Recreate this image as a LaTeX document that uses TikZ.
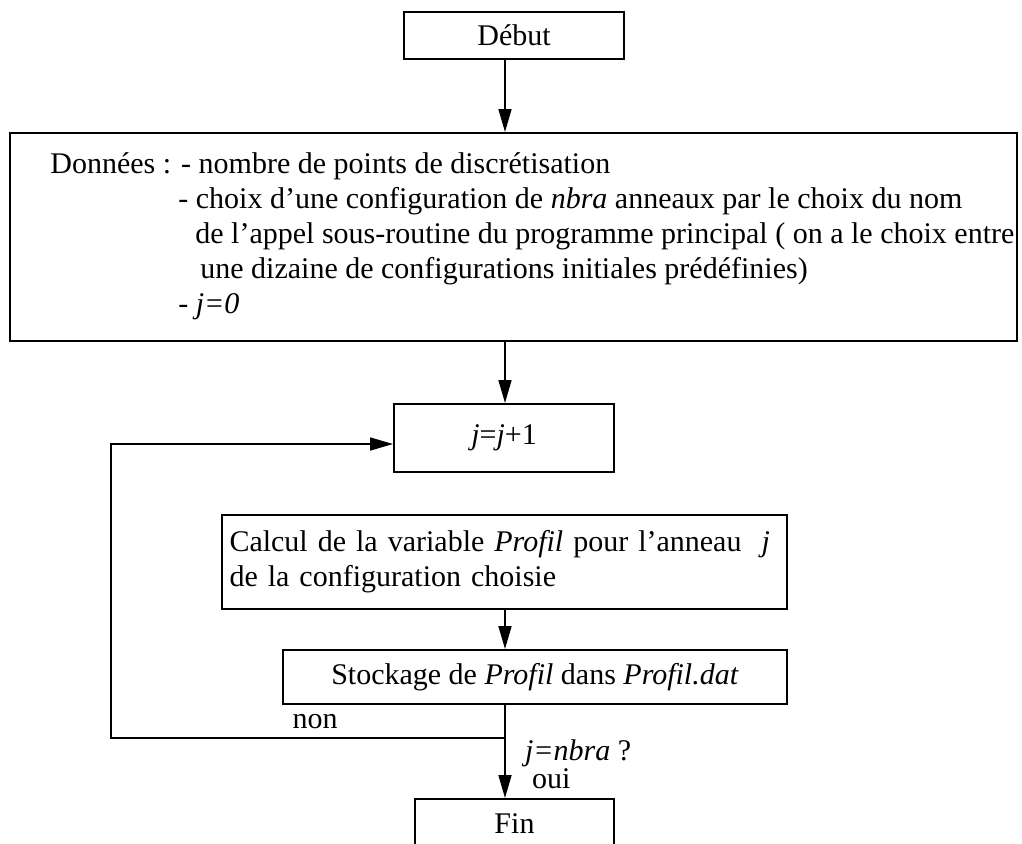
\documentclass[tikz,border=0pt]{standalone}
\usepackage{fontspec}
\setmainfont{Liberation Serif}
\usetikzlibrary{arrows.meta,positioning,calc}

\newcommand{\fs}{\fontsize{15}{17.5}\selectfont}

\begin{document}
\begin{tikzpicture}[x=0.5pt, y=-0.5pt, every node/.style={font=\fs},
  boite/.style={draw, line width=1pt, inner sep=0pt},
  fleche/.style={-{Triangle[length=11.5pt,width=6.5pt]}, line width=0.8pt}]
  \useasboundingbox (0,0) rectangle (1022,843);
  % boites
  \node[boite, minimum width=110pt, minimum height=23.5pt] (debut) at (514,35.5) {Début};
  \node[boite, minimum width=503.5pt, minimum height=104pt] (donnees) at (513.5,237) {};
  \node[anchor=north west, align=left, inner sep=0pt] (donneestxt) at (50,152)
    {Données : - nombre de points de discrétisation\\
     \hspace*{64pt}- choix d’une configuration de \textit{nbra} anneaux par le choix du nom\\
     \hspace*{72.5pt}de l’appel sous-routine du programme principal ( on a le choix entre\\
     \hspace*{75pt}une dizaine de configurations initiales prédéfinies)\\
     \hspace*{64pt}- \textit{j=0}};
  \node[boite, minimum width=110pt, minimum height=34pt] (incr) at (504,438) {\textit{j}=\textit{j}+1};
  \node[boite, minimum width=282.5pt, minimum height=47pt, text width=275pt, align=left]
    (calcul) at (504.5,562) {Calcul de la variable \textit{Profil} pour l’anneau \ \textit{j}\\
    de la configuration choisie};
  \node[boite, minimum width=252pt, minimum height=27pt] (stock) at (535,677)
    {Stockage de \textit{Profil} dans \textit{Profil.dat}};
  \node[boite, minimum width=99.5pt, minimum height=25pt] (fin) at (514.5,824) {Fin};
  % liaisons
  \coordinate (col) at (505,0);
  \coordinate (dec) at (505,738);
  \coordinate (retb) at (111,738);
  \coordinate (reth) at (111,444);
  \draw[fleche] (debut.south -| col) -- (donnees.north -| col);
  \draw[fleche] (donnees.south -| col) -- (incr.north -| col);
  \draw[fleche] (calcul.south -| col) -- (stock.north -| col);
  \draw[line width=0.8pt] (stock.south -| dec) -- (dec);
  \draw[fleche] (dec) -- (fin.north -| dec);
  \draw[fleche] (dec) -- (retb) -- (reth) -- (reth -| incr.west);
  % etiquettes
  \node (non) at (315,722) {non};
  \node[anchor=west] (test) at (518,753) {\textit{j=nbra} ?};
  \node[anchor=west] (oui) at (525,779) {oui};
\end{tikzpicture}
\end{document}
